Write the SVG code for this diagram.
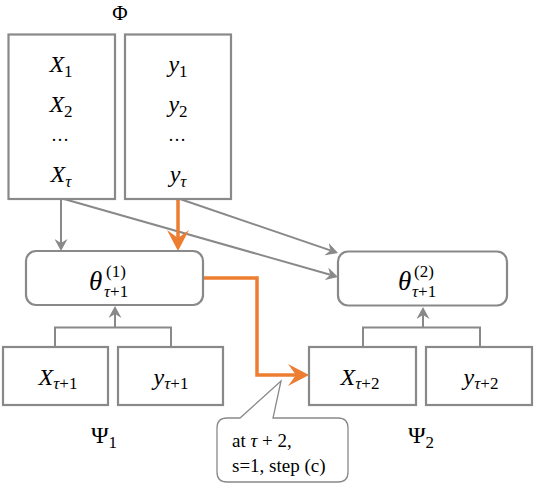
<svg xmlns="http://www.w3.org/2000/svg" width="534" height="484" viewBox="0 0 534 484">
<defs>
<style>
.box{fill:#fff;stroke:#898989;stroke-width:2.2}
.ln{fill:none;stroke:#898989;stroke-width:2}
.or{fill:none;stroke:#ED7D31;stroke-width:3.5}
.t{font-family:"Liberation Serif","Times New Roman","DejaVu Serif",serif;fill:#000}
.i{font-style:italic}
.big{font-size:24px}
.sub{font-size:17px}
</style>
<marker id="ag" viewBox="0 0 12 13" refX="4" refY="6.5" markerWidth="12" markerHeight="13" markerUnits="userSpaceOnUse" orient="auto">
<path d="M0,0 L12,6.5 L0,13 L4,6.5 Z" fill="#898989"/>
</marker>
<marker id="ao" viewBox="0 0 21 22" refX="8" refY="11" markerWidth="21" markerHeight="22" markerUnits="userSpaceOnUse" orient="auto">
<path d="M0,0 L21,11 L0,22 L8,11 Z" fill="#ED7D31"/>
</marker>
</defs>
<rect width="534" height="484" fill="#fff"/>

<g id="connectors">
<line class="ln" x1="61" y1="199" x2="61" y2="243" marker-end="url(#ag)"/>
<line class="ln" x1="180" y1="199" x2="330.4" y2="250.4" marker-end="url(#ag)"/>
<line class="ln" x1="64" y1="199" x2="330.3" y2="274.8" marker-end="url(#ag)"/>
<line class="or" x1="178" y1="199" x2="178" y2="238" marker-end="url(#ao)"/>
<polyline class="or" points="203,278 257,278 257,375 296,375" marker-end="url(#ao)"/>
<polyline class="ln" points="55,347 55,327.5 171,327.5 171,347"/>
<line class="ln" x1="115" y1="327.5" x2="115" y2="314" marker-end="url(#ag)"/>
<polyline class="ln" points="363,347 363,327.5 480,327.5 480,347"/>
<line class="ln" x1="423" y1="327.5" x2="423" y2="315" marker-end="url(#ag)"/>
</g>

<g id="phi-label">
<text class="t" x="120" y="20" font-size="21" text-anchor="middle">Φ</text>
</g>

<g id="node-X">
<rect class="box" x="8.5" y="34.5" width="106.5" height="164.5"/>
<text class="t big" x="61" y="72" text-anchor="middle"><tspan class="i">X</tspan><tspan class="sub" dy="5">1</tspan></text>
<text class="t big" x="61" y="112" text-anchor="middle"><tspan class="i">X</tspan><tspan class="sub" dy="5">2</tspan></text>
<text class="t" x="60" y="141" font-size="18" text-anchor="middle">…</text>
<text class="t big" x="61" y="182" text-anchor="middle"><tspan class="i">X</tspan><tspan class="sub i" dy="5">τ</tspan></text>
</g>

<g id="node-y">
<rect class="box" x="125" y="34.5" width="106" height="164.5"/>
<text class="t big" x="178" y="72" text-anchor="middle"><tspan class="i">y</tspan><tspan class="sub" dy="5">1</tspan></text>
<text class="t big" x="178" y="112" text-anchor="middle"><tspan class="i">y</tspan><tspan class="sub" dy="5">2</tspan></text>
<text class="t" x="177" y="141" font-size="18" text-anchor="middle">…</text>
<text class="t big" x="178" y="182" text-anchor="middle"><tspan class="i">y</tspan><tspan class="sub i" dy="5">τ</tspan></text>
</g>

<g id="node-theta1">
<rect class="box" x="26" y="251" width="177" height="54" rx="10"/>
<text class="t i" x="89" y="290" font-size="27">θ</text>
<text class="t" x="106" y="277" font-size="17">(1)</text>
<text class="t" x="104" y="297" font-size="17"><tspan class="i">τ</tspan>+1</text>
</g>

<g id="node-theta2">
<rect class="box" x="338" y="251.5" width="169" height="54" rx="10"/>
<text class="t i" x="398" y="290" font-size="27">θ</text>
<text class="t" x="414" y="277" font-size="17">(2)</text>
<text class="t" x="412" y="297" font-size="17"><tspan class="i">τ</tspan>+1</text>
</g>

<g id="node-Xt1">
<rect class="box" x="3" y="347" width="105" height="58"/>
<text class="t big" x="58" y="385" text-anchor="middle"><tspan class="i">X</tspan><tspan class="sub" dy="4"><tspan class="i">τ</tspan>+1</tspan></text>
</g>
<g id="node-yt1">
<rect class="box" x="118" y="347" width="105" height="58"/>
<text class="t big" x="171" y="385" text-anchor="middle"><tspan class="i">y</tspan><tspan class="sub" dy="4"><tspan class="i">τ</tspan>+1</tspan></text>
</g>
<g id="node-Xt2">
<rect class="box" x="309" y="347" width="107" height="58"/>
<text class="t big" x="360" y="385" text-anchor="middle"><tspan class="i">X</tspan><tspan class="sub" dy="4"><tspan class="i">τ</tspan>+2</tspan></text>
</g>
<g id="node-yt2">
<rect class="box" x="426" y="347" width="106" height="58"/>
<text class="t big" x="481" y="385" text-anchor="middle"><tspan class="i">y</tspan><tspan class="sub" dy="4"><tspan class="i">τ</tspan>+2</tspan></text>
</g>

<g id="psi1-label">
<text class="t" x="104" y="443" font-size="24" text-anchor="middle">Ψ<tspan font-size="17" dy="5">1</tspan></text>
</g>
<g id="psi2-label">
<text class="t" x="421" y="443" font-size="24" text-anchor="middle">Ψ<tspan font-size="17" dy="5">2</tspan></text>
</g>

<g id="callout">
<path d="M227,418 L240,418 L281,381 L273,418 L338,418 Q348,418 348,428 L348,472 Q348,482 338,482 L227,482 Q217,482 217,472 L217,428 Q217,418 227,418 Z" fill="#fff" stroke="#898989" stroke-width="1.3"/>
<text class="t" x="232" y="447" font-size="19">at <tspan class="i">τ</tspan> + 2,</text>
<text class="t" x="232" y="472" font-size="19">s=1, step (c)</text>
</g>
</svg>
